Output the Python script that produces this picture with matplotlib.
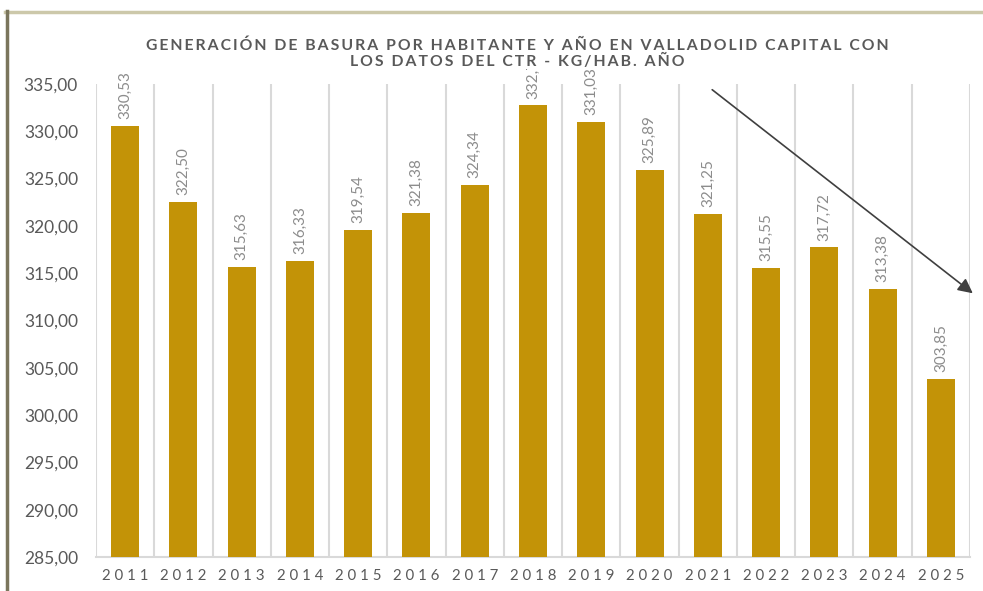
import matplotlib.pyplot as plt
from matplotlib.lines import Line2D
import numpy as np

years = ['2011', '2012', '2013', '2014', '2015', '2016', '2017', '2018',
         '2019', '2020', '2021', '2022', '2023', '2024', '2025']
kg_hab = [330.53, 322.50, 315.63, 316.33, 319.54, 321.38, 324.34, 332.73,
          331.03, 325.89, 321.25, 315.55, 317.72, 313.38, 303.85]
y_ticks = np.arange(285, 336, 5)

title = ('GENERACIÓN DE BASURA POR HABITANTE Y AÑO EN VALLADOLID CAPITAL CON\n'
         'LOS DATOS DEL CTR - KG/HAB. AÑO')

BAR = '#C39307'
GRID = '#D9D9D9'
TXT = '#595959'
FONT = ['Lato', 'DejaVu Sans']


def spaced(s, sep='\u2009'):
    return '\n'.join(sep.join(line) for line in s.split('\n'))


plt.rcParams['font.family'] = FONT

fig = plt.figure(figsize=(9.83, 5.91), dpi=100)
W, H = 983, 591
ax = fig.add_axes([96 / W, 34 / H, 874 / W, 473 / H])

x = np.arange(len(years))
bars = ax.bar(x, kg_hab, width=0.48, color=BAR, zorder=3)

for xi, v in zip(x, kg_hab):
    ax.annotate(f'{v:.2f}'.replace('.', ','), (xi, v), xytext=(0, 5),
                textcoords='offset points', rotation=90, ha='center', va='bottom',
                fontsize=11, color='#8C8C8C', zorder=4)

# vertical separators between years
for b in np.arange(-0.5, len(years), 1.0):
    ax.axvline(b, color=GRID, lw=1.5, zorder=1)

ax.set_xlim(-0.5, len(years) - 0.5)
ax.set_ylim(285, 335)
ax.set_yticks(y_ticks)
ax.set_yticklabels([f'{t:.2f}'.replace('.', ',') for t in y_ticks])
ax.set_xticks(x)
ax.set_xticklabels([' '.join(y) for y in years])
ax.tick_params(axis='y', length=0, pad=13, labelsize=12.5, labelcolor=TXT)
ax.tick_params(axis='x', length=0, pad=9, labelsize=10.8, labelcolor=TXT)

for side in ['top', 'right', 'left']:
    ax.spines[side].set_visible(False)
ax.spines['bottom'].set_color(GRID)
ax.spines['bottom'].set_linewidth(1.5)

fig.text(517 / W, 1 - 54 / H, spaced(title), ha='center', va='center',
         fontsize=11.3, fontweight='bold', color=TXT, linespacing=1.1,
         bbox=dict(facecolor='white', edgecolor='none', pad=0), zorder=10)

# downward trend arrow
ax.annotate('', xy=(975, H - 295), xytext=(710, H - 88),
            xycoords='figure pixels', textcoords='figure pixels',
            arrowprops=dict(arrowstyle='-|>', color='#3F3F3F', lw=1.2,
                            mutation_scale=22), annotation_clip=False)

# frame lines
fig.add_artist(Line2D([5 / W, 1], [1 - 12 / H] * 2, transform=fig.transFigure,
                      color='#CCC8AA', lw=2.5))
fig.add_artist(Line2D([6.5 / W] * 2, [0, 1 - 11 / H], transform=fig.transFigure,
                      color='#7A755C', lw=2.5))

fig.savefig('out.png', dpi=100, facecolor='white')
